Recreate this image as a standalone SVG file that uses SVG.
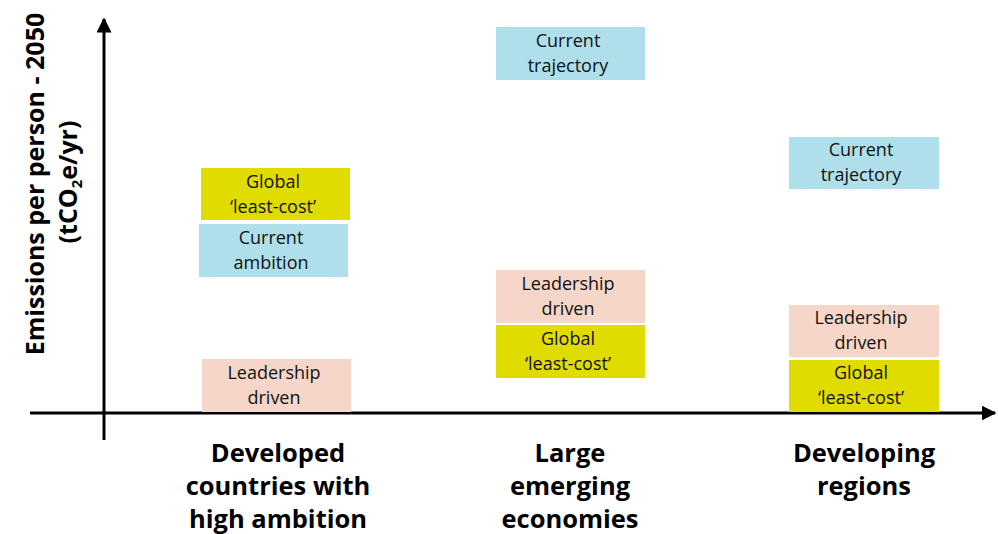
<svg xmlns="http://www.w3.org/2000/svg" width="998" height="534" viewBox="0 0 998 534">
  <defs>
    <marker id="arrow" viewBox="0 0 10 10" refX="9" refY="5" markerWidth="5" markerHeight="5" markerUnits="strokeWidth" orient="auto">
      <path d="M0,0 L10,5 L0,10 Z" fill="#000"/>
    </marker>
    <style>
      .axis { stroke: #000; stroke-width: 3; fill: none; }
      .yellow { fill: #e0dc00; }
      .blue { fill: #aedfeb; }
      .peach { fill: #f5d6c8; }
      .lbl { font-family: "Open Sans", "Liberation Sans", sans-serif; font-size: 18px; fill: #111; text-anchor: middle; }
      .cat { font-family: "Open Sans", "Liberation Sans", sans-serif; font-size: 25.5px; font-weight: bold; fill: #000; text-anchor: middle; }
      .ylab { font-family: "Open Sans", "Liberation Sans", sans-serif; font-size: 25px; font-weight: bold; fill: #000; text-anchor: middle; }
    </style>
  </defs>
  <rect width="998" height="534" fill="#fff"/>

  <!-- axes -->
  <g id="connectors">
    <line class="axis" x1="104" y1="440" x2="104" y2="19" marker-end="url(#arrow)"/>
    <line class="axis" x1="30" y1="413" x2="995" y2="413" marker-end="url(#arrow)"/>
  </g>

  <!-- y-axis title -->
  <g id="y-title">
    <text class="ylab" transform="translate(44,184) rotate(-90)">Emissions per person - 2050</text>
    <text class="ylab" font-size="22" transform="translate(77,182) rotate(-90)">(tCO<tspan font-size="15" dy="5">2</tspan><tspan dy="-5">e/yr)</tspan></text>
  </g>

  <!-- Developed countries with high ambition -->
  <g id="dev-global">
    <rect class="yellow" x="201" y="168" width="149" height="52"/>
    <text class="lbl" x="273" y="188">Global</text>
    <text class="lbl" x="273" y="213">‘least-cost’</text>
  </g>
  <g id="dev-current">
    <rect class="blue" x="199" y="224" width="149" height="53"/>
    <text class="lbl" x="271" y="244">Current</text>
    <text class="lbl" x="271" y="269">ambition</text>
  </g>
  <g id="dev-leadership">
    <rect class="peach" x="202" y="359" width="149" height="53"/>
    <text class="lbl" x="274" y="379">Leadership</text>
    <text class="lbl" x="274" y="404">driven</text>
  </g>

  <!-- Large emerging economies -->
  <g id="emg-current">
    <rect class="blue" x="496" y="27" width="149" height="53"/>
    <text class="lbl" x="568" y="47">Current</text>
    <text class="lbl" x="568" y="72">trajectory</text>
  </g>
  <g id="emg-leadership">
    <rect class="peach" x="496" y="270" width="149" height="53"/>
    <text class="lbl" x="568" y="290">Leadership</text>
    <text class="lbl" x="568" y="315">driven</text>
  </g>
  <g id="emg-global">
    <rect class="yellow" x="496" y="325" width="149" height="53"/>
    <text class="lbl" x="568" y="345">Global</text>
    <text class="lbl" x="568" y="370">‘least-cost’</text>
  </g>

  <!-- Developing regions -->
  <g id="dvg-current">
    <rect class="blue" x="789" y="137" width="150" height="52"/>
    <text class="lbl" x="861" y="156">Current</text>
    <text class="lbl" x="861" y="181">trajectory</text>
  </g>
  <g id="dvg-leadership">
    <rect class="peach" x="789" y="305" width="150" height="52"/>
    <text class="lbl" x="861" y="324">Leadership</text>
    <text class="lbl" x="861" y="349">driven</text>
  </g>
  <g id="dvg-global">
    <rect class="yellow" x="789" y="360" width="150" height="52"/>
    <text class="lbl" x="861" y="379">Global</text>
    <text class="lbl" x="861" y="404">‘least-cost’</text>
  </g>

  <!-- category labels -->
  <g id="cat-developed">
    <text class="cat" x="278" y="462">Developed</text>
    <text class="cat" x="278" y="495">countries with</text>
    <text class="cat" x="278" y="528">high ambition</text>
  </g>
  <g id="cat-emerging">
    <text class="cat" x="570" y="462">Large</text>
    <text class="cat" x="570" y="495">emerging</text>
    <text class="cat" x="570" y="528">economies</text>
  </g>
  <g id="cat-developing">
    <text class="cat" x="864" y="462">Developing</text>
    <text class="cat" x="864" y="495">regions</text>
  </g>
</svg>
